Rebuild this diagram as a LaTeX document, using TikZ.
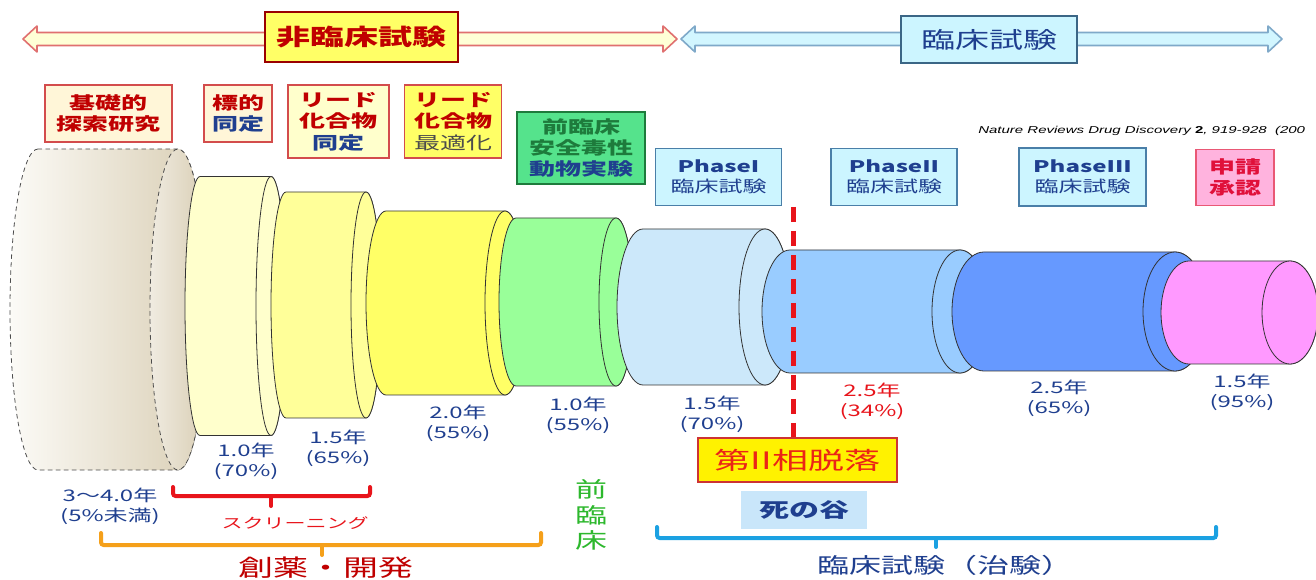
\documentclass[tikz,border=0pt]{standalone}
\usepackage{fontspec}
\setmainfont[FakeStretch=1.5]{Noto Sans CJK JP}
\newfontfamily\citefont[FakeStretch=1.5]{Liberation Sans}
\usepackage{xcolor}
\usetikzlibrary{calc}
\definecolor{hiRed}{HTML}{C00000}
\definecolor{arrRed}{HTML}{E07070}
\definecolor{arrYel}{HTML}{FFFFD6}
\definecolor{arrBlue}{HTML}{7FA9C9}
\definecolor{arrCyan}{HTML}{D2F6FF}
\definecolor{hiYel}{HTML}{FFFF66}
\definecolor{navy}{HTML}{1F3F8F}
\definecolor{cream}{HTML}{FFF6D8}
\definecolor{paleYel}{HTML}{FFFFCC}
\definecolor{midYel}{HTML}{FFFF99}
\definecolor{deepYel}{HTML}{FFFF66}
\definecolor{lgreen}{HTML}{99FF99}
\definecolor{boxGreen}{HTML}{55E38C}
\definecolor{darkGreen}{HTML}{1E7B3C}
\definecolor{skyA}{HTML}{CCE8FA}
\definecolor{skyB}{HTML}{99CCFF}
\definecolor{skyC}{HTML}{6699FF}
\definecolor{pinkC}{HTML}{FF99FF}
\definecolor{phaseFill}{HTML}{CCF5FF}
\definecolor{phaseLine}{HTML}{4A7FA8}
\definecolor{pinkBox}{HTML}{FFB3DE}
\definecolor{signRed}{HTML}{E0103A}
\definecolor{dropRed}{HTML}{E8141B}
\definecolor{orangeBr}{HTML}{F5A01A}
\definecolor{blueBr}{HTML}{1BA1E2}
\definecolor{valley}{HTML}{C9E6FA}
\definecolor{preGreen}{HTML}{2DB82D}
\definecolor{tanL}{HTML}{FCFBF7}
\definecolor{tanR}{HTML}{D9CEB4}
\newcommand{\Drum}[6]{%
  \edef\dback{#1}%
  \edef\dfront{#2}%
  \edef\dmid{#3}%
  \edef\drx{#4}%
  \edef\dry{#5}%
  \edef\dfill{#6}%
  \filldraw[drum, fill=\dfill] (\dback,\dmid-\dry) arc[start angle=-90, end angle=-270, x radius=\drx, y radius=\dry] -- (\dfront,\dmid+\dry) arc[start angle=90, end angle=-90, x radius=\drx, y radius=\dry] -- cycle;
  \filldraw[drum, fill=\dfill] (\dfront,\dmid) ellipse[x radius=\drx, y radius=\dry];
}
\tikzset{
  drum/.style={draw=black!80, line width=0.6pt},
  headbox/.style={draw, line width=1pt, inner sep=0pt, font=\fontsize{17}{20}\selectfont},
  lbox/.style={draw=hiRed!70, line width=0.8pt, inner sep=0pt, align=center, font=\fontsize{13}{16}\selectfont\bfseries},
  phasebox/.style={draw=phaseLine, fill=phaseFill, line width=0.8pt, inner sep=0pt, align=center, text=navy, font=\fontsize{12}{15}\selectfont},
  yrs/.style={align=center, text=navy, font=\fontsize{12}{15}\selectfont},
  brace/.style={line width=3pt, rounded corners=2pt}
}
\begin{document}
\begin{tikzpicture}[x=0.75pt, y=-0.75pt, line cap=round]
  \def\pix{0.75pt}
  \useasboundingbox[fill=white] (0,0) rectangle (1316,580);

  % phase arrows
  \filldraw[draw=arrRed, fill=arrYel, line width=1.2pt, line join=round] (23,39) -- (37,26) -- (37,32.5) -- (663,32.5) -- (663,26) -- (677,39) -- (663,52) -- (663,45.5) -- (37,45.5) -- (37,52) -- cycle;
  \filldraw[draw=arrBlue, fill=arrCyan, line width=1.2pt, line join=round] (681,39) -- (695,26) -- (695,32.5) -- (1268,32.5) -- (1268,26) -- (1282,39) -- (1268,52) -- (1268,45.5) -- (695,45.5) -- (695,52) -- cycle;
  \node[headbox, draw=hiRed!80!black, fill=hiYel, text=hiRed, minimum width=193*\pix, minimum height=50*\pix, font=\fontsize{17}{20}\selectfont\bfseries] (hirin) at (361.5,37) {非臨床試験};
  \node[headbox, draw=phaseLine!80!black, fill=phaseFill, text=navy, minimum width=176*\pix, minimum height=47*\pix] (rinsho) at (989,39.5) {臨床試験};

  % drums
  \shade[left color=tanL, right color=tanR] (38,149) arc[start angle=-90, end angle=-270, x radius=28, y radius=160.5] -- (178,470) arc[start angle=90, end angle=-90, x radius=28, y radius=160.5] -- cycle;
  \draw[dashed, black!70, line width=0.6pt] (38,149) arc[start angle=-90, end angle=-270, x radius=28, y radius=160.5] -- (178,470) arc[start angle=90, end angle=-90, x radius=28, y radius=160.5] -- cycle;
  \shade[left color=tanR!40, right color=tanR] (178,309.5) ellipse[x radius=28, y radius=160.5];
  \draw[dashed, black!70, line width=0.6pt] (178,309.5) ellipse[x radius=28, y radius=160.5];
  \Drum{200}{271}{306}{15}{129.5}{paleYel}
  \Drum{286}{366}{305}{15}{113}{midYel}
  \Drum{386}{505}{303}{20}{92}{deepYel}
  \Drum{516}{616}{302}{17}{84}{lgreen}
  \Drum{643}{765}{307}{26}{78}{skyA}
  \Drum{790}{960}{311.5}{28}{61.5}{skyB}
  \Drum{984}{1175}{311.5}{32}{59.5}{skyC}
  \Drum{1189}{1290}{312.5}{28}{51.5}{pinkC}

  % stage labels
  \node[lbox, fill=cream, minimum width=127*\pix, minimum height=57*\pix] (kiso) at (108.5,113.5) {\textcolor{hiRed}{基礎的}\\\textcolor{hiRed}{探索研究}};
  \node[lbox, fill=cream, minimum width=68*\pix, minimum height=57*\pix] (hyoteki) at (238,113.5) {\textcolor{hiRed}{標的}\\\textcolor{navy}{同定}};
  \node[lbox, fill=paleYel, minimum width=101*\pix, minimum height=73*\pix] (leadA) at (338.5,121.5) {\textcolor{hiRed}{リード}\\\textcolor{hiRed}{化合物}\\\textcolor{navy}{同定}};
  \node[lbox, fill=deepYel, minimum width=97*\pix, minimum height=73*\pix] (leadB) at (453,121.5) {\textcolor{hiRed}{リード}\\\textcolor{hiRed}{化合物}\\\textcolor{black!70}{\mdseries 最適化}};
  \node[lbox, draw=darkGreen, fill=boxGreen, minimum width=128*\pix, minimum height=72*\pix] (zenrin) at (581,148) {\textcolor{darkGreen}{前臨床}\\\textcolor{darkGreen}{安全毒性}\\\textcolor{navy}{動物実験}};
  \node[phasebox, minimum width=126*\pix, minimum height=57*\pix] (phaseA) at (718.5,177) {\bfseries PhaseI\\臨床試験};
  \node[phasebox, minimum width=126*\pix, minimum height=57*\pix] (phaseB) at (894,177) {\bfseries PhaseII\\臨床試験};
  \node[phasebox, minimum width=127*\pix, minimum height=58*\pix] (phaseC) at (1082.5,177) {\bfseries PhaseIII\\臨床試験};
  \node[lbox, draw=signRed!70, fill=pinkBox, text=signRed, minimum width=78*\pix, minimum height=56*\pix] (shinsei) at (1235,177.5) {申請\\承認};
  \node[anchor=west, inner sep=0pt, font=\citefont\fontsize{7.5}{9}\selectfont\itshape] (cite) at (978,131) {Nature Reviews Drug Discovery \textbf{\upshape 2}, 919-928\ \ (200};

  % years and success rates
  \node[yrs] (yrKiso) at (110,506) {3〜4.0年\\(5\%未満)};
  \node[yrs] (yrHyo) at (246,461) {1.0年\\(70\%)};
  \node[yrs] (yrLeadA) at (338,448) {1.5年\\(65\%)};
  \node[yrs] (yrLeadB) at (458,423) {2.0年\\(55\%)};
  \node[yrs] (yrZen) at (578,415) {1.0年\\(55\%)};
  \node[yrs] (yrP1) at (712,414) {1.5年\\(70\%)};
  \node[yrs, text=dropRed] (yrP2) at (872,401) {2.5年\\(34\%)};
  \node[yrs] (yrP3) at (1059,398) {2.5年\\(65\%)};
  \node[yrs] (yrSin) at (1242,392) {1.5年\\(95\%)};

  % phase II drop-out
  \node[draw=hiRed!80, line width=1pt, fill=yellow, text=dropRed!85!orange, inner sep=0pt, minimum width=199*\pix, minimum height=44*\pix, font=\fontsize{18}{20}\selectfont] (dropout) at (797.5,460) {第II相脱落};
  \coordinate (drop) at (793,207);
  \draw[dropRed, line width=3.75pt, line cap=butt, dash pattern=on 11pt off 7pt] (drop) -- (drop |- dropout.north);
  \node[fill=valley, inner sep=0pt, minimum width=126*\pix, minimum height=38*\pix, text=navy, font=\fontsize{15}{18}\selectfont\bfseries] (death) at (804,510) {死の谷};

  % brackets
  \draw[brace, dropRed] (173,487) -- (173,496) -- (370,496) -- (370,487);
  \draw[brace, dropRed] (271,496) -- (271,506);
  \node[text=dropRed, font=\fontsize{10.5}{12}\selectfont] (screen) at (295,523) {スクリーニング};
  \draw[brace, orangeBr] (101,533) -- (101,545) -- (541,545) -- (541,533);
  \draw[brace, orangeBr] (322,545) -- (322,555);
  \node[text=hiRed, font=\fontsize{17.5}{20}\selectfont] (sojaku) at (326,568) {創薬・開発};
  \draw[brace, blueBr] (657,527) -- (657,538) -- (1216,538) -- (1216,527);
  \draw[brace, blueBr] (936,538) -- (936,547);
  \node[text=navy, font=\fontsize{16}{18}\selectfont] (chiken) at (945,565) {臨床試験（治験）};
  \node[text=preGreen, align=center, font=\fontsize{16}{19}\selectfont] (zenV) at (591,515) {前\\臨\\床};
\end{tikzpicture}
\end{document}
